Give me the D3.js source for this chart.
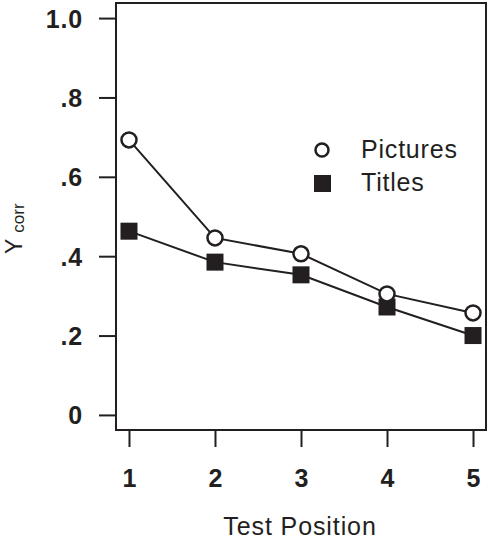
<!DOCTYPE html>
<html lang="en-US">
<head>
  <script src="https://d3js.org/d3.v7.min.js"></script>
  <style>
    body { margin: 0; background: #fff; }
    text { font-family: Arial, "Liberation Sans", sans-serif; fill: #231f20; }
  </style>
</head>
<body>

<svg width="490" height="539"></svg>

<script>
var positions = [1, 2, 3, 4, 5];
var pictures = [0.693, 0.446, 0.406, 0.305, 0.257];
var titles = [0.463, 0.385, 0.353, 0.272, 0.200];
var yTicks = [0, 0.2, 0.4, 0.6, 0.8, 1.0];
var yTickLabels = ["0", ".2", ".4", ".6", ".8", "1.0"];

var svg = d3.select("svg");
var ink = "#231f20";

// plot box (window.top is read-only, so not called "top")
var boxL = 116, boxR = 486, boxT = 3, boxB = 430;

var x = d3.scaleLinear().domain([0.849, 5.151]).range([boxL, boxR]);
var y = d3.scaleLinear().domain([-0.038, 1.038]).range([boxB, boxT]);

// frame
svg.append("rect")
  .attr("x", boxL).attr("y", boxT)
  .attr("width", boxR - boxL).attr("height", boxB - boxT)
  .attr("fill", "none").attr("stroke", ink).attr("stroke-width", 2);

// y axis
var yAxis = d3.axisLeft(y)
  .tickValues(yTicks)
  .tickSize(17)
  .tickPadding(16)
  .tickFormat(function(d, i) { return yTickLabels[i]; });
var gy = svg.append("g").attr("transform", "translate(" + boxL + ",0)").call(yAxis);
gy.select(".domain").remove();
gy.selectAll(".tick line").attr("stroke", ink).attr("stroke-width", 2);
gy.selectAll(".tick text")
  .attr("font-size", 25).attr("font-weight", "bold")
  .attr("font-family", "Arial, 'Liberation Sans', sans-serif")
  .attr("letter-spacing", 0.8)
  .attr("fill", ink).attr("dy", "0.36em");

// x axis
var xAxis = d3.axisBottom(x)
  .tickValues(positions)
  .tickSize(17)
  .tickPadding(22)
  .tickFormat(d3.format("d"));
var gx = svg.append("g").attr("transform", "translate(0," + boxB + ")").call(xAxis);
gx.select(".domain").remove();
gx.selectAll(".tick line").attr("stroke", ink).attr("stroke-width", 2);
gx.selectAll(".tick text")
  .attr("font-size", 25).attr("font-weight", "bold")
  .attr("font-family", "Arial, 'Liberation Sans', sans-serif")
  .attr("fill", ink);

// axis titles
svg.append("text")
  .attr("x", 300).attr("y", 535)
  .attr("text-anchor", "middle")
  .attr("font-size", 25)
  .attr("letter-spacing", 0.9)
  .text("Test Position");

var yt = svg.append("text")
  .attr("transform", "translate(22,254) rotate(-90)")
  .attr("text-anchor", "start")
  .attr("font-size", 23);
yt.append("tspan").text("Y");
yt.append("tspan").attr("font-size", 17).attr("dx", 6).attr("dy", 2).text("corr");

// lines
var line = d3.line()
  .x(function(d, i) { return x(positions[i]); })
  .y(function(d) { return y(d); });

svg.append("path").datum(titles).attr("d", line)
  .attr("fill", "none").attr("stroke", ink).attr("stroke-width", 2);
svg.append("path").datum(pictures).attr("d", line)
  .attr("fill", "none").attr("stroke", ink).attr("stroke-width", 2);

// markers
var sq = 17;
svg.append("g").selectAll("rect")
  .data(titles)
  .enter().append("rect")
  .attr("x", function(d, i) { return x(positions[i]) - sq / 2; })
  .attr("y", function(d) { return y(d) - sq / 2; })
  .attr("width", sq).attr("height", sq)
  .attr("fill", ink);

svg.append("g").selectAll("circle")
  .data(pictures)
  .enter().append("circle")
  .attr("cx", function(d, i) { return x(positions[i]); })
  .attr("cy", function(d) { return y(d); })
  .attr("r", 7.5)
  .attr("fill", "#fff").attr("stroke", ink).attr("stroke-width", 2.5);

// legend
var legend = svg.append("g");
legend.append("circle").attr("cx", 322).attr("cy", 150).attr("r", 6.5)
  .attr("fill", "#fff").attr("stroke", ink).attr("stroke-width", 2.5);
legend.append("rect").attr("x", 314).attr("y", 175).attr("width", 17).attr("height", 17)
  .attr("fill", ink);
legend.append("text").attr("x", 361).attr("y", 158).attr("font-size", 25)
  .attr("letter-spacing", 0.8).text("Pictures");
legend.append("text").attr("x", 361).attr("y", 191).attr("font-size", 25)
  .attr("letter-spacing", 0.8).text("Titles");
</script>
</body>
</html>
